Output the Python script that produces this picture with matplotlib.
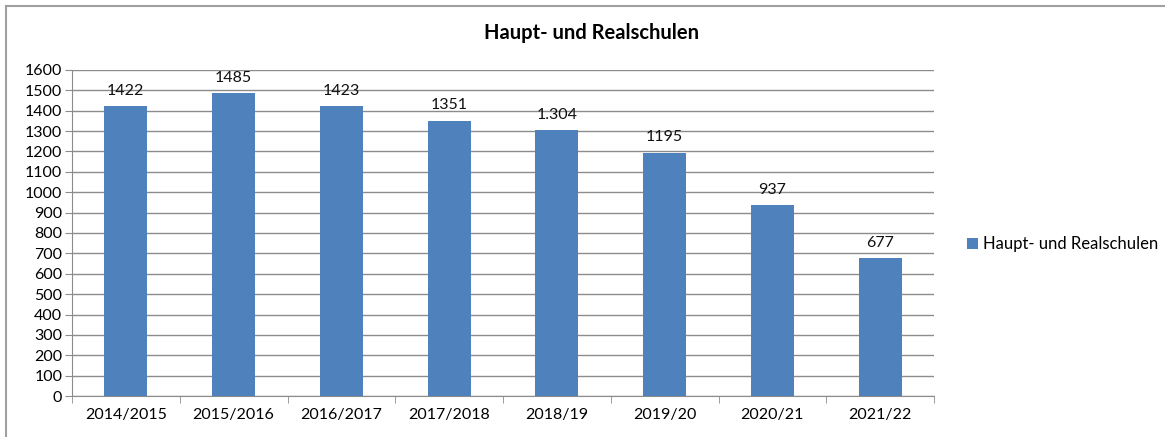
import matplotlib.pyplot as plt
from matplotlib.lines import Line2D
import numpy as np

plt.rcParams['font.family'] = ['Lato', 'DejaVu Sans']

years = ['2014/2015', '2015/2016', '2016/2017', '2017/2018', '2018/19', '2019/20', '2020/21', '2021/22']
values = [1422, 1485, 1423, 1351, 1304, 1195, 937, 677]
value_labels = ['1422', '1485', '1423', '1351', '1.304', '1195', '937', '677']
series_name = 'Haupt- und Realschulen'

bar_color = '#4F81BD'
grid_color = '#8C8C8C'

fig = plt.figure(figsize=(11.65, 4.37), dpi=100)
ax = fig.add_axes([72/1165, 1 - 396/437, (934-72)/1165, (396-70)/437])

x = np.arange(len(years))
ax.bar(x, values, width=0.4, color=bar_color, label=series_name, zorder=3)

for xi, v, lab in zip(x, values, value_labels):
    ax.annotate(lab, (xi, v), xytext=(0, 6), textcoords='offset points',
                ha='center', va='bottom', fontsize=11.5, color='#111111')

ax.set_xlim(-0.5, len(years) - 0.5)
ax.set_ylim(0, 1600)
ax.set_yticks(range(0, 1601, 100))
ax.set_xticks(x)
ax.set_xticklabels(years, fontsize=11.5)
ax.tick_params(axis='y', labelsize=11.5, length=5, color=grid_color, pad=2)
ax.set_xticks(np.arange(-0.5, len(years)), minor=True)
ax.tick_params(axis='x', which='major', length=0, pad=9)
ax.tick_params(axis='x', which='minor', length=5, color=grid_color)
ax.grid(axis='y', color=grid_color, linewidth=1, zorder=0)

for side in ['top', 'right']:
    ax.spines[side].set_visible(False)
ax.spines['left'].set_color(grid_color)
ax.spines['bottom'].set_color(grid_color)

ax.legend(loc='center left', bbox_to_anchor=(1.03, 0.465), frameon=False,
          fontsize=12, handlelength=0.7, handleheight=0.7, handletextpad=0.3,
          borderaxespad=0.0)

fig.text(591/1165, 1 - 33/437, 'Haupt- und Realschulen', ha='center', va='center',
         fontsize=14.5, fontweight='bold')

# chart frame (top and left edges only are visible)
top_y = 1 - 6/437
left_x = 6/1165
fig.add_artist(Line2D([left_x, 1], [top_y, top_y], transform=fig.transFigure,
                      color='#A0A0A0', linewidth=1.5))
fig.add_artist(Line2D([left_x, left_x], [0, top_y], transform=fig.transFigure,
                      color='#A0A0A0', linewidth=1.5))

fig.savefig('out.png', dpi=100)
